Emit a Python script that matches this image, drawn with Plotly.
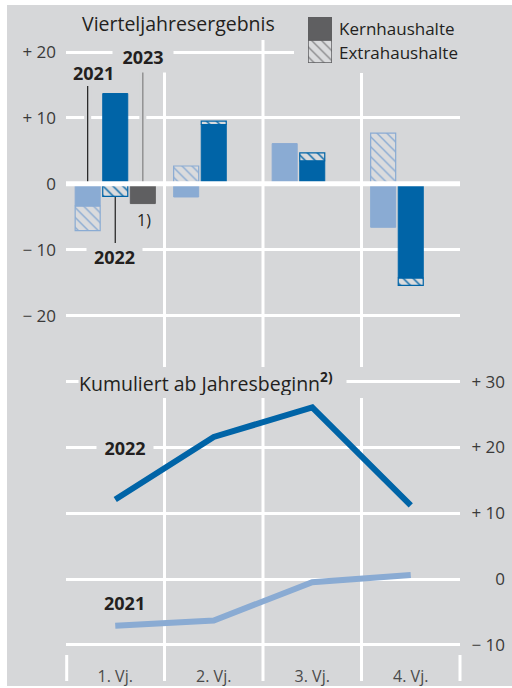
import plotly.graph_objects as go

# ---------------------------------------------------------------- data
quarters = ["1. Vj.", "2. Vj.", "3. Vj.", "4. Vj."]

# Vierteljahresergebnis in Mrd €: Kernhaushalte / Extrahaushalte
kern_2021 = [-3.4, -2.0, 6.1, -6.6]
extra_2021 = [-3.7, 2.7, None, 7.7]
kern_2022 = [13.7, 9.0, 3.5, -14.3]
extra_2022 = [-1.9, 0.5, 1.2, -1.1]
kern_2023 = [-3.0]

# Kumuliert ab Jahresbeginn in Mrd €
cum_2021 = [-7.1, -6.3, -0.5, 0.6]
cum_2022 = [12.1, 21.6, 26.1, 11.2]

upper_ticks = [20, 10, 0, -10, -20]
upper_ticktext = ["+ 20", "+ 10", "0", "− 10", "− 20"]
lower_ticks = [30, 20, 10, 0, -10]
lower_ticktext = ["+ 30", "+ 20", "+ 10", "0", "− 10"]

# ---------------------------------------------------------------- styles
W, H = 512, 688
BG = "#d6d7d9"
HATCH_BG = "#dadbdd"
LIGHT = "#8aabd3"
DARK = "#0064a7"
GREY = "#5f5f61"
TEXT = "#231f20"
TICK = "#3a3a3a"
FONT = "Open Sans"

BAR_W = 0.254      # bar width in category units
OFFSET = 0.28      # distance between neighbouring year bars


def px(x):
    return x / W


def py(y):
    return 1 - y / H


# pixel geometry of the two panels
X0, X1 = 66, 460
UP_TOP, UP_BOT, UP_ZERO, UP_K = 40, 367, 183.8, 6.59
LO_TOP, LO_BOT, LO_ZERO, LO_K = 375, 646, 579.0, 6.577


def up_val(y):
    return (UP_ZERO - y) / UP_K


def lo_val(y):
    return (LO_ZERO - y) / LO_K


def bar_trace(vals, shift, color, hatched):
    xs = [i + 0.5 + shift for i in range(len(vals))]
    if hatched:
        marker = dict(color=HATCH_BG, line=dict(color=color, width=1.2),
                      pattern=dict(shape="\\", fgcolor=color, bgcolor=HATCH_BG,
                                   size=7, solidity=0.2, fillmode="replace"))
    else:
        marker = dict(color=color, line=dict(color=color, width=1))
    return go.Bar(x=xs, y=vals, width=BAR_W, marker=marker,
                  xaxis="x", yaxis="y", hoverinfo="skip")


fig = go.Figure()

# quarterly bars (core first, then off-budget entities stacked on top)
fig.add_trace(bar_trace(kern_2021, -OFFSET, LIGHT, False))
fig.add_trace(bar_trace(extra_2021, -OFFSET, LIGHT, True))
fig.add_trace(bar_trace(kern_2022, 0.0, DARK, False))
fig.add_trace(bar_trace(extra_2022, 0.0, DARK, True))
fig.add_trace(bar_trace(kern_2023, OFFSET, GREY, False))

# cumulative lines
xc = [i + 0.5 for i in range(len(quarters))]
fig.add_trace(go.Scatter(x=xc, y=cum_2021, mode="lines", xaxis="x2", yaxis="y2",
                         line=dict(color=LIGHT, width=6), hoverinfo="skip"))
fig.add_trace(go.Scatter(x=xc, y=cum_2022, mode="lines", xaxis="x2", yaxis="y2",
                         line=dict(color=DARK, width=6), hoverinfo="skip"))

# legend swatches
fig.add_trace(go.Bar(x=[0.5], y=[1], width=1, xaxis="x3", yaxis="y3",
                     marker=dict(color=HATCH_BG, line=dict(color=GREY, width=1.5),
                                 pattern=dict(shape="\\", fgcolor="#8a8a8c", bgcolor=HATCH_BG,
                                              size=7, solidity=0.2, fillmode="replace")),
                     hoverinfo="skip"))
fig.add_trace(go.Bar(x=[0.5], y=[1], width=1, xaxis="x3", yaxis="y3",
                     marker=dict(color=GREY, line=dict(color=GREY, width=1)),
                     hoverinfo="skip"))

axis_common = dict(showline=False, zeroline=False, ticks="", fixedrange=True,
                   automargin=False)

fig.update_layout(
    template="none",
    width=W, height=H, margin=dict(l=0, r=0, t=0, b=0, pad=0, autoexpand=False),
    paper_bgcolor="white", plot_bgcolor="rgba(0,0,0,0)",
    showlegend=False, barmode="relative",
    font=dict(family=FONT, color=TEXT, size=16),
    xaxis=dict(domain=[px(X0), px(X1)], range=[0, 4], showgrid=False,
               showticklabels=False, anchor="y", **axis_common),
    yaxis=dict(domain=[py(UP_BOT), py(UP_TOP)], range=[up_val(UP_BOT), up_val(UP_TOP)],
               tickvals=upper_ticks, ticktext=upper_ticktext,
               showgrid=True, gridcolor="white", gridwidth=3,
               tickfont=dict(size=17, color=TICK), ticklabelstandoff=9,
               anchor="x", **axis_common),
    xaxis2=dict(domain=[px(X0), px(X1)], range=[0, 4], showgrid=False,
                tickvals=xc, ticktext=quarters, tickfont=dict(size=16, color="#4a4a4a"),
                ticklabelstandoff=19, anchor="y2", **axis_common),
    yaxis2=dict(domain=[py(LO_BOT), py(LO_TOP)], range=[lo_val(LO_BOT), lo_val(LO_TOP)],
                tickvals=lower_ticks, ticktext=lower_ticktext,
                showgrid=True, gridcolor="white", gridwidth=3,
                tickfont=dict(size=17, color=TICK), side="left",
                anchor="free", position=px(505), **axis_common),
    xaxis3=dict(domain=[px(308), px(332)], range=[0, 1], anchor="y3", visible=False,
                fixedrange=True),
    yaxis3=dict(domain=[py(63), py(17)], range=[0, 2], anchor="x3", visible=False,
                fixedrange=True),
)

shapes = []
# panel background
shapes.append(dict(type="rect", xref="paper", yref="paper", x0=px(7), x1=1,
                   y0=py(686), y1=py(5), fillcolor=BG, line=dict(width=0), layer="below"))
# quarter separators
for i, top in zip([1, 2, 3], [71, 40, 73]):
    xs = px(X0 + (X1 - X0) * i / 4)
    shapes.append(dict(type="line", xref="paper", yref="paper", x0=xs, x1=xs,
                       y0=py(top), y1=py(UP_BOT), line=dict(color="white", width=3),
                       layer="below"))
    shapes.append(dict(type="line", xref="paper", yref="paper", x0=xs, x1=xs,
                       y0=py(398), y1=py(681), line=dict(color="white", width=3),
                       layer="below"))
for xe in (X0 + 0.7, X1):
    shapes.append(dict(type="line", xref="paper", yref="paper", x0=px(xe), x1=px(xe),
                       y0=py(655), y1=py(681), line=dict(color="white", width=3),
                       layer="below"))
# clear area behind the legend
shapes.append(dict(type="rect", xref="x", yref="y", x0=(294 - X0) / 98.5, x1=4.05,
                   y0=up_val(73), y1=up_val(30), fillcolor=BG, line=dict(width=0),
                   layer="between"))
# leader lines with a background-coloured halo
leaders = [(-OFFSET + 0.5, up_val(86), 0, "#1e1e1e"),
           (OFFSET + 0.5, up_val(71), 0, "#808080"),
           (0.5, extra_2022[0], up_val(243), "#1e1e1e")]
for x, ya, yb, col in leaders:
    shapes.append(dict(type="line", xref="x", yref="y", x0=x, x1=x, y0=ya, y1=yb,
                       line=dict(color=BG, width=7), layer="between"))
for x, ya, yb, col in leaders:
    shapes.append(dict(type="line", xref="x", yref="y", x0=x, x1=x, y0=ya, y1=yb,
                       line=dict(color=col, width=1.2), layer="between"))
# zero line on top of the bars
shapes.append(dict(type="line", xref="x", yref="y", x0=0, x1=4, y0=0, y1=0,
                   line=dict(color="white", width=5), layer="above"))
fig.update_layout(shapes=shapes)


def label(text, x, y, size=16, bold=False, anchor="center", box=None, color=TEXT):
    a = dict(text=f"<b>{text}</b>" if bold else text, xref="paper", yref="paper",
             x=px(x), y=py(y), xanchor=anchor, yanchor="middle", showarrow=False,
             font=dict(family=FONT, size=size, color=color), borderpad=0)
    if box:
        a.update(bgcolor=BG, width=box[0], height=box[1], align=anchor)
    return a


annotations = [
    label("Vierteljahresergebnis", 81, 24, size=19.5, anchor="left"),
    label("Kernhaushalte", 338, 29, size=17, anchor="left"),
    label("Extrahaushalte", 338, 52, size=17, anchor="left"),
    label("2021", 93.5, 73, size=18, bold=True),
    label("2023", 143, 57, size=18, bold=True, box=(60, 30)),
    label("2022", 114.5, 257, size=18, bold=True, box=(55, 24)),
    label("1)", 144, 220, size=16),
    label("Kumuliert ab Jahresbeginn<sup><b>2)</b></sup>", 78, 382, size=19.5,
          anchor="left", box=(267, 26)),
    label("2022", 125, 448, size=18, bold=True, box=(56, 24)),
    label("2021", 124, 603, size=18, bold=True),
]
fig.update_layout(annotations=annotations)

fig.write_html("out.html")
